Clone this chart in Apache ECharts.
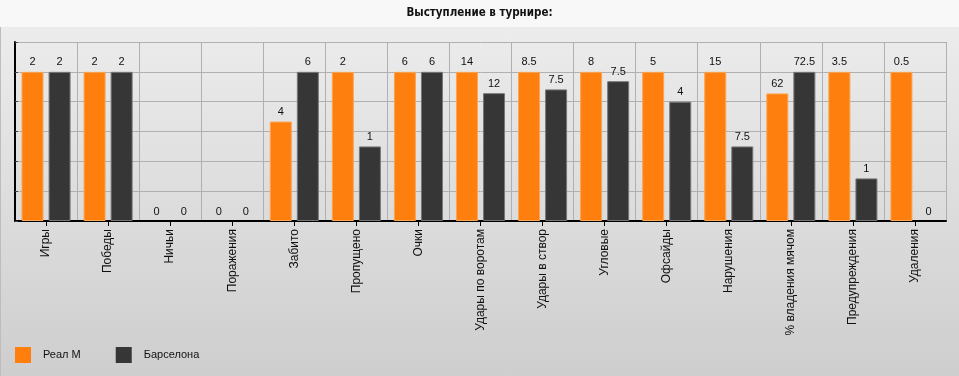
<!DOCTYPE html>
<html>
<head>
<meta charset="utf-8">
<script src="https://cdn.jsdelivr.net/npm/echarts@6/dist/echarts.min.js"></script>
<style>
html,body{margin:0;padding:0;}
#wrap{position:relative;width:959px;height:376px;overflow:hidden;
  background:linear-gradient(to bottom,#f8f8f8 0px,#f8f8f8 27px,#ececec 27px,#cecece 376px);}
#edge{position:absolute;left:0;top:27px;width:1px;height:349px;background:#bdbdbd;}
#chart{position:absolute;left:0;top:0;width:959px;height:376px;}
</style>
</head>
<body>
<div id="wrap"><div id="edge"></div><div id="chart"></div></div>
<script>
const categories = ["Игры","Победы","Ничьи","Поражения","Забито","Пропущено","Очки","Удары по воротам","Удары в створ","Угловые","Офсайды","Нарушения","% владения мячом","Предупреждения","Удаления"];
const realM = [2,2,0,0,4,2,6,14,8.5,8,5,15,62,3.5,0.5];
const barca = [2,2,0,0,6,1,6,12,7.5,7.5,4,7.5,72.5,1,0];
const seriesNames = ["Реал М","Барселона"];
const colors = ["#ff7f0e","#363636"];
const borders = ["#f9a552","#777777"];

function norm(arr, other){
  return arr.map((v,i)=>{
    const m = Math.max(v, other[i]);
    const item = {value: m > 0 ? v / m * 100 : 0, raw: v};
    if (v === 0) item.itemStyle = {borderWidth:0};
    return item;
  });
}
const dataSets = [norm(realM, barca), norm(barca, realM)];

const chart = echarts.init(document.getElementById('chart'), null, {renderer:'canvas'});
chart.setOption({
  backgroundColor:'transparent',
  animation:false,
  title:{
    text:'Выступление в турнире:',
    left:'center', top:2,
    textStyle:{fontFamily:'DejaVu Sans Condensed, Liberation Sans Narrow, sans-serif', fontWeight:'bold', fontSize:11.5, color:'#111'}
  },
  legend:{
    left:10, top:342, itemWidth:16, itemHeight:16, itemGap:35,
    icon:'rect',
    data:seriesNames,
    itemStyle:{borderWidth:0},
    textStyle:{fontFamily:'Liberation Sans', fontSize:11, color:'#111', padding:[0,0,0,7]}
  },
  grid:{left:15, right:13, top:42, bottom:155, containLabel:false},
  xAxis:{
    type:'category',
    data:categories,
    axisLine:{lineStyle:{color:'#000', width:2}},
    axisTick:{show:true, alignWithLabel:true, length:5, lineStyle:{color:'#000'}},
    axisLabel:{rotate:90, margin:8, fontFamily:'Liberation Sans', fontSize:12, color:'#111', interval:0},
    splitLine:{show:true, lineStyle:{color:'#b0b0b0', width:1}}
  },
  yAxis:{
    type:'value', min:0, max:120, interval:20,
    axisLine:{show:true, lineStyle:{color:'#000', width:2}},
    axisTick:{show:true, inside:true, length:3, lineStyle:{color:'#444'}},
    axisLabel:{show:false},
    splitLine:{show:true, lineStyle:{color:'#b0b0b0', width:1}}
  },
  series: seriesNames.map((n,k)=>({
    name:n, type:'bar',
    data:dataSets[k],
    barWidth:22, barGap:'23%',
    itemStyle:{color:colors[k], borderColor:borders[k], borderWidth:1},
    label:{show:true, position:'top', distance:4, fontFamily:'Liberation Sans', fontSize:11, color:'#111',
      formatter:p=>String(p.data.raw)}
  }))
});
</script>
</body>
</html>
